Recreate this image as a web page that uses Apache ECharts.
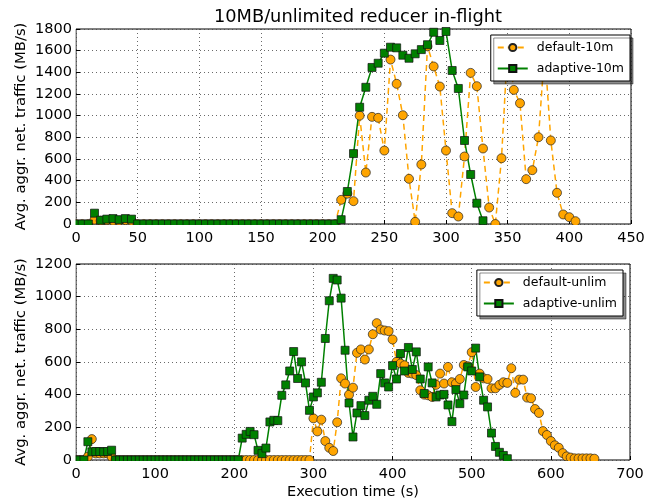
<!DOCTYPE html>
<html>
<head>
<meta charset="utf-8">
<script src="https://cdn.jsdelivr.net/npm/echarts@6/dist/echarts.min.js"></script>
<style>
  html, body { margin: 0; padding: 0; background: #fff; }
  #chart { width: 655px; height: 501px; }
</style>
</head>
<body>
<div id="chart"></div>
<script>
// top panel: 10MB buffers
const top10mDefaultTimes = [
  0, 5, 10, 15, 20, 25, 30, 35, 40, 45, 50, 55, 60, 65, 70, 75, 80, 85, 90, 95,
  100, 105, 110, 115, 120, 125, 130, 135, 140, 145, 150, 155, 160, 165, 170, 175, 180, 185, 190, 195,
  200, 205, 210, 215, 220, 225, 230, 235, 240, 245, 250, 255, 260, 265, 270, 275, 280, 285, 290, 295,
  300, 305, 310, 315, 320, 325, 330, 335, 340, 345, 350, 355, 360, 365, 370, 375, 380, 385, 390, 395,
  400, 405
];
const top10mDefault = [
  0, 0, 0, 40, 30, 35, 30, 30, 35, 30, 0, 0, 0, 0, 0, 0, 0, 0, 0, 0,
  0, 0, 0, 0, 0, 0, 0, 0, 0, 0, 0, 0, 0, 0, 0, 0, 0, 0, 0, 0,
  0, 0, 0, 223, 280, 211, 1000, 475, 989, 980, 678, 1518, 1294, 1004, 417, 20, 549, 1640, 1454, 1269,
  678, 100, 69, 623, 1395, 1272, 697, 152, 0, 607, 1650, 1238, 1115, 414, 497, 801, 1600, 771, 288, 88,
  63, 26
];
const top10mAdaptiveTimes = [
  0, 5, 10, 15, 20, 25, 30, 35, 40, 45, 50, 55, 60, 65, 70, 75, 80, 85, 90, 95,
  100, 105, 110, 115, 120, 125, 130, 135, 140, 145, 150, 155, 160, 165, 170, 175, 180, 185, 190, 195,
  200, 205, 210, 215, 220, 225, 230, 235, 240, 245, 250, 255, 260, 265, 270, 275, 280, 285, 290, 295,
  300, 305, 310, 315, 320, 325, 330
];
const top10mAdaptive = [
  0, 0, 0, 100, 35, 45, 50, 40, 50, 45, 0, 0, 0, 0, 0, 0, 0, 0, 0, 0,
  0, 0, 0, 0, 0, 0, 0, 0, 0, 0, 0, 0, 0, 0, 0, 0, 0, 0, 0, 0,
  0, 0, 0, 40, 300, 650, 1078, 1262, 1445, 1484, 1577, 1632, 1626, 1558, 1530, 1571, 1610, 1655, 1770, 1694,
  1777, 1417, 1251, 771, 457, 192, 30
];

// bottom panel: unlimited buffers
const unlimDefaultTimes = [
  0, 5, 10, 15, 20, 25, 30, 35, 40, 45, 50, 55, 60, 65, 70, 75, 80, 85, 90, 95,
  100, 105, 110, 115, 120, 125, 130, 135, 140, 145, 150, 155, 160, 165, 170, 175, 180, 185, 190, 195,
  200, 205, 210, 215, 220, 225, 230, 235, 240, 245, 250, 255, 260, 265, 270, 275, 280, 285, 290, 295,
  300, 305, 310, 315, 320, 325, 330, 335, 340, 345, 350, 355, 360, 365, 370, 375, 380, 385, 390, 395,
  400, 405, 410, 415, 420, 425, 430, 435, 440, 445, 450, 455, 460, 465, 470, 475, 480, 485, 490, 495,
  500, 505, 510, 515, 520, 525, 530, 535, 540, 545, 550, 555, 560, 565, 570, 575, 580, 585, 590, 595,
  600, 605, 610, 615, 620, 625, 630, 635, 640, 645, 650, 655
];
const unlimDefault = [
  0, 0, 0, 20, 128, 40, 40, 40, 40, 20, 0, 0, 0, 0, 0, 0, 0, 0, 0, 0,
  0, 0, 0, 0, 0, 0, 0, 0, 0, 0, 0, 0, 0, 0, 0, 0, 0, 0, 0, 0,
  0, 0, 0, 0, 0, 0, 0, 0, 0, 0, 0, 0, 0, 0, 0, 0, 0, 0, 0, 0,
  255, 175, 247, 116, 75, 55, 231, 500, 468, 400, 443, 656, 677, 615, 677, 770, 838, 799, 793, 789,
  738, 601, 591, 580, 533, 529, 520, 427, 400, 396, 386, 460, 529, 468, 570, 476, 468, 496, 582, 574,
  660, 447, 529, 500, 496, 439, 439, 460, 476, 472, 562, 411, 492, 492, 382, 378, 312, 288, 177, 153,
  116, 90, 75, 42, 22, 15, 10, 10, 10, 10, 10, 8
];
const unlimAdaptiveTimes = [
  0, 5, 10, 15, 20, 25, 30, 35, 40, 45, 50, 55, 60, 65, 70, 75, 80, 85, 90, 95,
  100, 105, 110, 115, 120, 125, 130, 135, 140, 145, 150, 155, 160, 165, 170, 175, 180, 185, 190, 195,
  200, 205, 210, 215, 220, 225, 230, 235, 240, 245, 250, 255, 260, 265, 270, 275, 280, 285, 290, 295,
  300, 305, 310, 315, 320, 325, 330, 335, 340, 345, 350, 355, 360, 365, 370, 375, 380, 385, 390, 395,
  400, 405, 410, 415, 420, 425, 430, 435, 440, 445, 450, 455, 460, 465, 470, 475, 480, 485, 490, 495,
  500, 505, 510, 515, 520, 525, 530, 535, 540, 545
];
const unlimAdaptive = [
  0, 0, 0, 112, 50, 52, 52, 50, 52, 60, 0, 0, 0, 0, 0, 0, 0, 0, 0, 0,
  0, 0, 0, 0, 0, 0, 0, 0, 0, 0, 0, 0, 0, 0, 0, 0, 0, 0, 0, 0,
  0, 0, 134, 157, 175, 155, 59, 39, 73, 233, 243, 241, 396, 460, 545, 664, 499, 601, 472, 304,
  386, 411, 476, 744, 975, 1112, 1102, 991, 672, 349, 141, 288, 333, 272, 366, 390, 341, 529, 472, 447,
  578, 496, 652, 545, 689, 554, 662, 496, 407, 570, 472, 386, 398, 402, 337, 235, 431, 345, 398, 570,
  545, 685, 509, 366, 325, 165, 83, 47, 28, 8
];

const zip = (xs, ys) => xs.map((x, i) => [x, ys[i]]);

const FONT = 'DejaVu Sans';
const ORANGE = '#FFA500';
const GREEN = '#008000';
const grids = [
  { left: 76, top: 29, width: 555, height: 195 },
  { left: 76, top: 264, width: 554, height: 196 }
];

function xAxisFor(idx, max, interval, withName) {
  return {
    type: 'value', gridIndex: idx, min: 0, max: max, interval: interval,
    name: withName ? 'Execution time (s)' : '',
    nameLocation: 'middle', nameGap: 25,
    nameTextStyle: { fontFamily: FONT, fontSize: 14.5, color: '#000' },
    axisLine: { show: false },
    axisTick: { inside: true, length: 4, lineStyle: { color: '#000' } },
    axisLabel: { fontFamily: FONT, fontSize: 14.5, color: '#000', margin: 7, formatter: v => String(v) },
    splitLine: { show: true, lineStyle: { color: '#444', type: [1, 3], width: 0.8 } }
  };
}

function yAxisFor(idx, max, interval) {
  return {
    type: 'value', gridIndex: idx, min: 0, max: max, interval: interval,
    name: 'Avg. aggr. net. traffic (MB/s)',
    nameLocation: 'middle', nameGap: 47, nameMoveOverlap: false,
    nameTextStyle: { fontFamily: FONT, fontSize: 14.8, color: '#000' },
    axisLine: { show: false },
    axisTick: { inside: true, length: 4, lineStyle: { color: '#000' } },
    axisLabel: { fontFamily: FONT, fontSize: 14.5, color: '#000', margin: 4, formatter: v => String(v) },
    splitLine: { show: true, lineStyle: { color: '#444', type: [1, 3], width: 0.8 } }
  };
}

function defaultSeries(name, idx, data) {
  return {
    name: name, type: 'line', xAxisIndex: idx, yAxisIndex: idx, data: data,
    symbol: 'circle', symbolSize: 9, showAllSymbol: true, animation: false,
    lineStyle: { color: ORANGE, width: 1.5, type: [6, 4] },
    itemStyle: { color: ORANGE, borderColor: '#222', borderWidth: 0.7 }
  };
}

function adaptiveSeries(name, idx, data) {
  return {
    name: name, type: 'line', xAxisIndex: idx, yAxisIndex: idx, data: data,
    symbol: 'rect', symbolSize: 8, showAllSymbol: true, animation: false,
    lineStyle: { color: GREEN, width: 1.5 },
    itemStyle: { color: GREEN, borderColor: '#111', borderWidth: 0.7 }
  };
}

function legendFor(names, top, right) {
  return {
    data: names, orient: 'vertical', top: top, right: right,
    backgroundColor: '#fff', borderColor: '#000', borderWidth: 1, borderRadius: 0,
    padding: [6, 6, 6, 6], itemGap: 8, itemWidth: 30, itemHeight: 9,
    shadowColor: 'rgba(0,0,0,0.45)', shadowOffsetX: 3, shadowOffsetY: 3, shadowBlur: 0,
    textStyle: { fontFamily: FONT, fontSize: 12.5, color: '#000', padding: [0, 0, 0, 4] }
  };
}

// white strips that hide the half of each marker lying outside the frame, like matplotlib clipping
const masks = grids.map(g => ({
  type: 'rect', z: 1000, zlevel: 0, silent: true,
  shape: { x: g.left - 6, y: g.top + g.height + 1, width: g.width + 12, height: 5 },
  style: { fill: '#fff' }
})).concat(grids.map(g => ({
  type: 'rect', z: 1000, zlevel: 0, silent: true,
  shape: { x: g.left - 5, y: g.top - 6, width: 4.5, height: g.height + 12 },
  style: { fill: '#fff' }
})));

const chart = echarts.init(document.getElementById('chart'), null, { renderer: 'canvas' });
chart.setOption({
  backgroundColor: '#fff',
  animation: false,
  title: {
    text: '10MB/unlimited reducer in-flight', left: 353, top: 3, textAlign: 'center',
    textStyle: { fontFamily: FONT, fontSize: 17.8, fontWeight: 'normal', color: '#000' }
  },
  grid: grids.map(g => Object.assign({ show: true, borderColor: '#000', borderWidth: 1, backgroundColor: 'transparent' }, g)),
  xAxis: [xAxisFor(0, 450, 50, false), xAxisFor(1, 700, 100, true)],
  yAxis: [yAxisFor(0, 1800, 200), yAxisFor(1, 1200, 200)],
  legend: [
    legendFor(['default-10m', 'adaptive-10m'], 35, 25),
    legendFor(['default-unlim', 'adaptive-unlim'], 270, 32)
  ],
  graphic: { elements: masks },
  series: [
    defaultSeries('default-10m', 0, zip(top10mDefaultTimes, top10mDefault)),
    adaptiveSeries('adaptive-10m', 0, zip(top10mAdaptiveTimes, top10mAdaptive)),
    defaultSeries('default-unlim', 1, zip(unlimDefaultTimes, unlimDefault)),
    adaptiveSeries('adaptive-unlim', 1, zip(unlimAdaptiveTimes, unlimAdaptive))
  ]
});
</script>
</body>
</html>
